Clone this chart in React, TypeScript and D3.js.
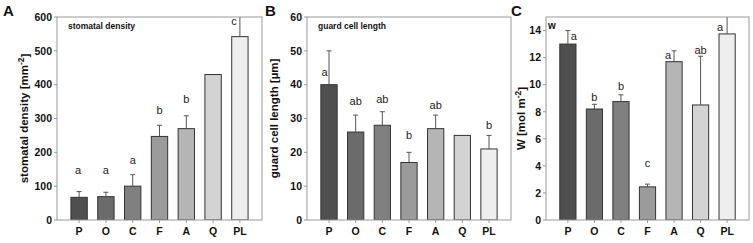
import React from "react";
import * as d3 from "d3";

const categories = ["P", "O", "C", "F", "A", "Q", "PL"];
const barColors = ["#4f4f4f", "#6b6b6b", "#808080", "#9b9b9b", "#b5b5b5", "#d3d3d3", "#eeeeee"];

// Panel A: stomatal density
const densityMean = [67, 69, 100, 247, 270, 430, 542];
const densityErr = [84, 82, 134, 280, 308, null, 640];
const densityLetters = ["a", "a", "a", "b", "b", "", "c"];
const densityLetterY = [135, 135, 165, 313, 347, 0, 576];
const densityTicks = [0, 100, 200, 300, 400, 500, 600];

// Panel B: guard cell length
const guardMean = [40, 26, 28, 17, 27, 25, 21];
const guardErr = [50, 31, 32, 20, 31, null, 25];
const guardLetters = ["a", "ab", "ab", "b", "ab", "", "b"];
const guardLetterY = [42.5, 34, 34.5, 24, 32.7, 0, 27];
const guardTicks = [0, 10, 20, 30, 40, 50, 60];

// Panel C: W
const wMean = [13.0, 8.2, 8.75, 2.45, 11.7, 8.5, 13.75];
const wErr = [14.0, 8.55, 9.25, 2.65, 12.5, 12.1, 16];
const wLetters = ["a", "b", "b", "c", "a", "ab", "a"];
const wLetterY = [13.3, 8.8, 9.6, 3.9, 11.9, 12.3, 14.0];
const wTicks = [0, 2, 4, 6, 8, 10, 12, 14];

type PanelProps = {
  id: string;
  left: number;
  right: number;
  top: number;
  bottom: number;
  yMax: number;
  ticks: number[];
  means: number[];
  errs: (number | null)[];
  letters: string[];
  letterY: number[];
  letterDx: number[];
  title: string;
  labelOffset: number;
  yLabel: React.ReactNode;
};

const FONT = "'Liberation Sans', Arial, sans-serif";

function Panel(p: PanelProps) {
  const x = d3
    .scaleBand<string>()
    .domain(categories)
    .range([p.left, p.right])
    .paddingInner(0.39)
    .paddingOuter(0.52);
  const y = d3.scaleLinear().domain([0, p.yMax]).range([p.bottom, p.top]);
  const bw = x.bandwidth();
  const clipId = "clip-" + p.id;
  const frame = "#9a9a9a";
  return (
    <g>
      <defs>
        <clipPath id={clipId}>
          <rect x={p.left} y={p.top} width={p.right - p.left} height={p.bottom - p.top} />
        </clipPath>
      </defs>
      <g clipPath={`url(#${clipId})`}>
        {categories.map((c, i) => {
          const x0 = x(c)!;
          const cx = x0 + bw / 2;
          const e = p.errs[i];
          return (
            <g key={c}>
              <rect
                x={x0}
                y={y(p.means[i])}
                width={bw}
                height={y(0) - y(p.means[i])}
                fill={barColors[i]}
                stroke="#333"
                strokeWidth={1}
              />
              {e !== null && (
                <g stroke="#555" strokeWidth={1}>
                  <line x1={cx} x2={cx} y1={y(p.means[i])} y2={y(e)} />
                  <line x1={cx - 2.5} x2={cx + 2.5} y1={y(e)} y2={y(e)} />
                </g>
              )}
            </g>
          );
        })}
      </g>
      {categories.map((c, i) =>
        p.letters[i] ? (
          <text
            key={"l" + c}
            x={x(c)! + bw / 2 + p.letterDx[i]}
            y={y(p.letterY[i])}
            textAnchor="middle"
            fontFamily={FONT}
            fontSize={11}
            fill="#222"
          >
            {p.letters[i]}
          </text>
        ) : null
      )}
      <rect
        x={p.left}
        y={p.top}
        width={p.right - p.left}
        height={p.bottom - p.top}
        fill="none"
        stroke={frame}
        strokeWidth={1}
      />
      {p.ticks.map((t) => (
        <g key={"t" + t}>
          <line x1={p.left - 3} x2={p.left} y1={y(t)} y2={y(t)} stroke={frame} />
          <text
            x={p.left - 5}
            y={y(t)}
            dy="0.36em"
            textAnchor="end"
            fontFamily={FONT}
            fontWeight="bold"
            fontSize={10.5}
            fill="#111"
          >
            {t}
          </text>
        </g>
      ))}
      {categories.map((c) => (
        <g key={"x" + c}>
          <line
            x1={x(c)! + bw / 2}
            x2={x(c)! + bw / 2}
            y1={p.bottom}
            y2={p.bottom + 3}
            stroke={frame}
          />
          <text
            x={x(c)! + bw / 2}
            y={p.bottom + 15}
            textAnchor="middle"
            fontFamily={FONT}
            fontWeight="bold"
            fontSize={10.5}
            fill="#111"
          >
            {c}
          </text>
        </g>
      ))}
      <text
        x={p.left + (p.id === "C" ? 2 : 11)}
        y={p.top + 12}
        fontFamily={FONT}
        fontWeight="bold"
        fontSize={p.id === "C" ? 10 : 8.5}
        fill="#111"
      >
        {p.title}
      </text>
      <text
        transform={`translate(${p.left - p.labelOffset},${(p.top + p.bottom) / 2}) rotate(-90)`}
        textAnchor="middle"
        fontFamily={FONT}
        fontWeight="bold"
        fontSize={11.5}
        fill="#111"
      >
        {p.yLabel}
      </text>
    </g>
  );
}

export default function App() {
  return (
    <svg
      width={753}
      height={243}
      style={{ position: "absolute", left: 0, top: 0, background: "#fff" }}
    >
      <rect width={753} height={243} fill="#fff" />
      <Panel
        id="A"
        left={57}
        right={262}
        top={17}
        bottom={220}
        yMax={600}
        ticks={densityTicks}
        means={densityMean}
        errs={densityErr}
        letters={densityLetters}
        letterY={densityLetterY}
        letterDx={[-1, 0, 0, 0, 0, 0, -6]}
        title="stomatal density"
        labelOffset={29}
        yLabel={
          <>
            stomatal density [mm
            <tspan dy="-0.45em" fontSize={8.5}>-2</tspan>
            <tspan dy="0.45em">]</tspan>
          </>
        }
      />
      <Panel
        id="B"
        left={307}
        right={511}
        top={17}
        bottom={220}
        yMax={60}
        ticks={guardTicks}
        means={guardMean}
        errs={guardErr}
        letters={guardLetters}
        letterY={guardLetterY}
        letterDx={[-4.5, 0, 0, 0, 0, 0, 0]}
        title="guard cell length"
        labelOffset={29}
        yLabel={<>guard cell length [µm]</>}
      />
      <Panel
        id="C"
        left={546}
        right={749}
        top={17}
        bottom={220}
        yMax={15}
        ticks={wTicks}
        means={wMean}
        errs={wErr}
        letters={wLetters}
        letterY={wLetterY}
        letterDx={[6, 0, 0, 0, -6, 0, -7]}
        title="w"
        labelOffset={21}
        yLabel={
          <>
            W [mol m
            <tspan dy="-0.45em" fontSize={8.5}>-2</tspan>
            <tspan dy="0.45em">]</tspan>
          </>
        }
      />
      {[
        { t: "A", x: 3 },
        { t: "B", x: 265 },
        { t: "C", x: 511 },
      ].map((d) => (
        <text
          key={d.t}
          x={d.x}
          y={16}
          fontFamily={FONT}
          fontWeight="bold"
          fontSize={15}
          fill="#111"
        >
          {d.t}
        </text>
      ))}
    </svg>
  );
}
